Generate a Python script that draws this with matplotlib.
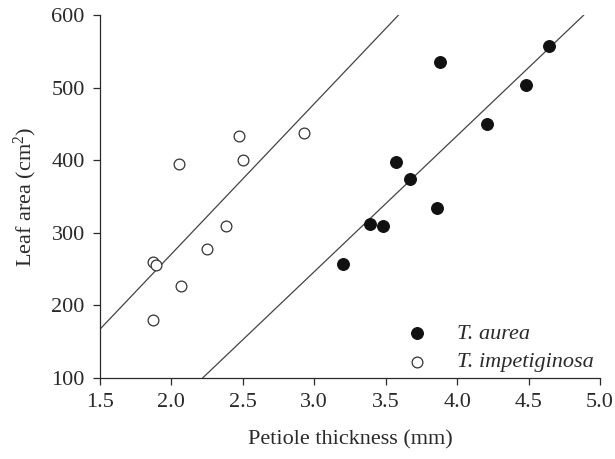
"""
Leaf area vs petiole thickness for two Tabebuia species.
"""
import matplotlib
matplotlib.use("Agg")
import matplotlib.pyplot as plt

# T. aurea (filled)
aurea_x = [3.20, 3.39, 3.48, 3.57, 3.67, 3.86, 3.88, 4.21, 4.48, 4.64]
aurea_y = [257, 312, 310, 398, 374, 334, 535, 450, 504, 557]

# T. impetiginosa (open)
imp_x = [1.87, 1.89, 1.87, 2.05, 2.07, 2.25, 2.38, 2.47, 2.50, 2.93]
imp_y = [260, 256, 179, 395, 227, 277, 310, 434, 400, 438]

# fitted lines
imp_line_x = [1.5, 3.588]
imp_line_y = [167, 600]
aurea_line_x = [2.22, 4.885]
aurea_line_y = [100, 600]

x_ticks = [1.5, 2.0, 2.5, 3.0, 3.5, 4.0, 4.5, 5.0]
y_ticks = [100, 200, 300, 400, 500, 600]

plt.rcParams["font.family"] = ["Liberation Serif", "DejaVu Serif"]
plt.rcParams["mathtext.fontset"] = "custom"
plt.rcParams["mathtext.rm"] = "Liberation Serif"
plt.rcParams["mathtext.it"] = "Liberation Serif:italic"

ink = "#2a2a2a"
fs = 16

fig = plt.figure(figsize=(6.15, 4.59), dpi=100)
ax = fig.add_axes([0.1626, 0.177, 0.813, 0.7897])

ax.plot(imp_line_x, imp_line_y, color="#444444", lw=0.9)
ax.plot(aurea_line_x, aurea_line_y, color="#444444", lw=0.9)

ax.scatter(aurea_x, aurea_y, s=72, c="#111111", edgecolors="#111111",
           linewidths=0.8, label="T. aurea", zorder=3)
ax.scatter(imp_x, imp_y, s=60, facecolors="white", edgecolors="#333333",
           linewidths=0.9, label="T. impetiginosa", zorder=3)

ax.set_xlim(1.5, 5.0)
ax.set_ylim(100, 600)
ax.set_xticks(x_ticks)
ax.set_xticklabels([f"{v:.1f}" for v in x_ticks])
ax.set_yticks(y_ticks)

for side in ["top", "right"]:
    ax.spines[side].set_visible(False)
for side in ["left", "bottom"]:
    ax.spines[side].set_color(ink)
    ax.spines[side].set_linewidth(0.9)

ax.tick_params(direction="out", length=5, width=0.9, colors=ink,
               labelsize=fs, pad=6)

ax.set_xlabel("Petiole thickness (mm)", fontsize=fs, color=ink, labelpad=13)
ax.set_ylabel("Leaf area (cm$^2$)", fontsize=fs, color=ink, labelpad=9)

leg = ax.legend(loc="lower right", frameon=False,
                prop={"style": "italic", "size": fs},
                handletextpad=0.8, borderaxespad=0.0, labelspacing=0.35,
                bbox_to_anchor=(1.005, -0.01))
for t in leg.get_texts():
    t.set_color(ink)

fig.savefig("out.png", dpi=100)
